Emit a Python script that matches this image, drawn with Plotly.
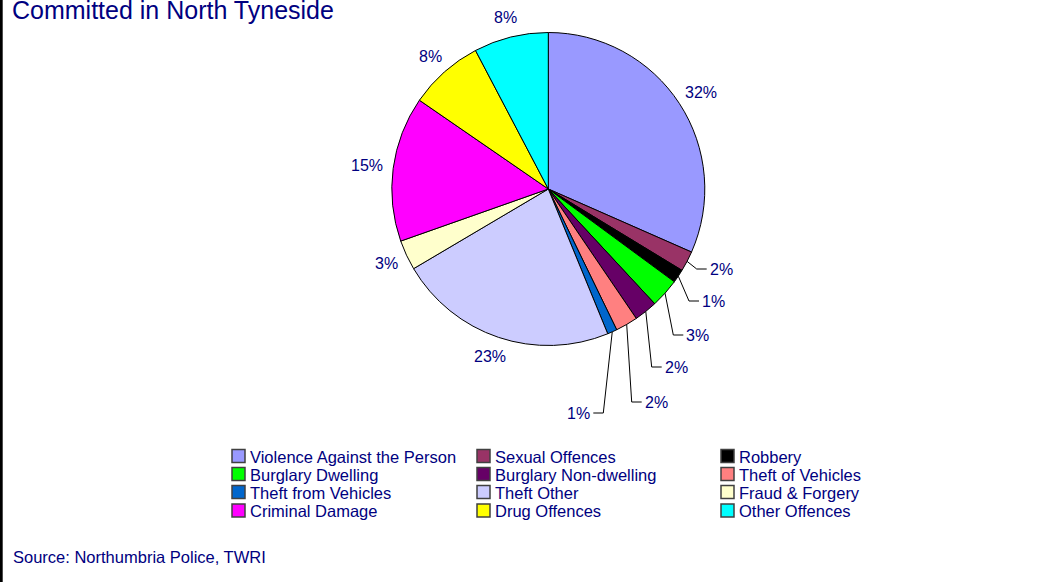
import math
import plotly.graph_objects as go

# ---------------- data ----------------
categories = [
    "Violence Against the Person", "Sexual Offences", "Robbery",
    "Burglary Dwelling", "Burglary Non-dwelling", "Theft of Vehicles",
    "Theft from Vehicles", "Theft Other", "Fraud & Forgery",
    "Criminal Damage", "Drug Offences", "Other Offences",
]
shares = [31.6, 2.1, 1.4, 3.0, 2.4, 2.3, 1.0, 22.7, 3.1, 15.0, 7.7, 7.7]
colors = [
    "#9999FF", "#993366", "#000000", "#00FF00", "#660066", "#FF8080",
    "#0066CC", "#CCCCFF", "#FFFFCC", "#FF00FF", "#FFFF00", "#00FFFF",
]
title_text = "Committed in North Tyneside"
source_text = "Source: Northumbria Police, TWRI"

# ---------------- layout constants (pixels) ----------------
W, H = 1059, 582
CX, CY, R = 548.3, 189.0, 156.5          # pie centre / radius
LABEL_GAP = 12                           # gap between pie edge and label box
NAVY = "#000080"
FONT = "Liberation Sans, Arial, sans-serif"
# slices whose labels are pulled out with elbow leader lines:
# index -> (elbow x, elbow y, side)
leader_elbows = {
    1: (696.7, 269.0, "right"),
    2: (689.0, 301.0, "right"),
    3: (673.3, 335.0, "right"),
    4: (651.7, 367.0, "right"),
    5: (631.7, 402.0, "right"),
    6: (603.3, 413.0, "left"),
}
legend_cols = [232, 477, 721]
legend_rows = [456, 474, 492, 510.5]
legend_box = 13


def px(x):
    return x / W


def py(y):
    return 1 - y / H


fig = go.Figure()
fig.add_trace(go.Pie(
    labels=categories,
    values=shares,
    sort=False,
    direction="clockwise",
    rotation=0,
    marker=dict(colors=colors, line=dict(color="#000000", width=1)),
    textinfo="none",
    hoverinfo="label+percent",
    showlegend=False,
    domain=dict(x=[px(CX - R), px(CX + R)], y=[py(CY + R), py(CY - R)]),
))

annotations = []
shapes = []

total = sum(shares)
cum = 0.0
LBL_SIZE = 16
for i, v in enumerate(shares):
    mid = (cum + v / 2) / total * 2 * math.pi
    cum += v
    ux, uy = math.sin(mid), -math.cos(mid)
    txt = f"{round(v / total * 100)}%"
    w_est = len(txt) * 0.6 * LBL_SIZE
    if i in leader_elbows:
        ex, ey, side = leader_elbows[i]
        sx, sy = CX + R * ux, CY + R * uy
        hx = ex + 10 if side == "right" else ex - 10
        shapes.append(dict(type="path", xref="paper", yref="paper",
                           path=f"M {px(sx)},{py(sy)} L {px(ex)},{py(ey)} L {px(hx)},{py(ey)}",
                           line=dict(color="#000000", width=1)))
        annotations.append(dict(
            x=px(hx + (1 if side == "right" else -1)), y=py(ey), xref="paper", yref="paper",
            text=txt, showarrow=False, xanchor="left" if side == "right" else "right",
            yanchor="middle", font=dict(size=LBL_SIZE, color=NAVY, family=FONT)))
    else:
        rr = R + LABEL_GAP
        lx = CX + rr * ux + (w_est / 2) * ux
        ly = CY + rr * uy + 8 * uy
        annotations.append(dict(
            x=px(lx), y=py(ly), xref="paper", yref="paper", text=txt,
            showarrow=False, xanchor="center", yanchor="middle",
            font=dict(size=LBL_SIZE, color=NAVY, family=FONT)))

# legend (3 columns x 4 rows, row-major)
for i, (name, col) in enumerate(zip(categories, colors)):
    c, r = i % 3, i // 3
    x0 = legend_cols[c]
    yc = legend_rows[r]
    shapes.append(dict(type="rect", xref="paper", yref="paper",
                       x0=px(x0), x1=px(x0 + legend_box),
                       y0=py(yc + legend_box / 2), y1=py(yc - legend_box / 2),
                       fillcolor=col, line=dict(color="#404040", width=1.5)))
    annotations.append(dict(
        x=px(x0 + legend_box + 3), y=py(yc + 0.5), xref="paper", yref="paper",
        text=name, showarrow=False, xanchor="left", yanchor="middle",
        font=dict(size=16.5, color=NAVY, family=FONT)))

# title (partially cut at top in the original) and source
annotations.append(dict(x=px(10), y=py(10), xref="paper", yref="paper",
                        text=title_text, showarrow=False, xanchor="left",
                        yanchor="middle", font=dict(size=25, color=NAVY, family=FONT)))
annotations.append(dict(x=px(11), y=py(557), xref="paper", yref="paper",
                        text=source_text, showarrow=False, xanchor="left",
                        yanchor="middle", font=dict(size=16.5, color=NAVY, family=FONT)))

# left frame edge
shapes.append(dict(type="rect", xref="paper", yref="paper",
                   x0=0, x1=px(2.7), y0=0, y1=1,
                   fillcolor="#000000", line=dict(width=0)))

fig.update_layout(
    width=W, height=H,
    margin=dict(l=0, r=0, t=0, b=0),
    paper_bgcolor="#FFFFFF", plot_bgcolor="#FFFFFF",
    annotations=annotations, shapes=shapes,
    showlegend=False,
)
fig.write_html(
    "out.html",
    config={"displayModeBar": False},
    post_script="document.body.style.margin='0';document.body.style.overflow='hidden';",
)
